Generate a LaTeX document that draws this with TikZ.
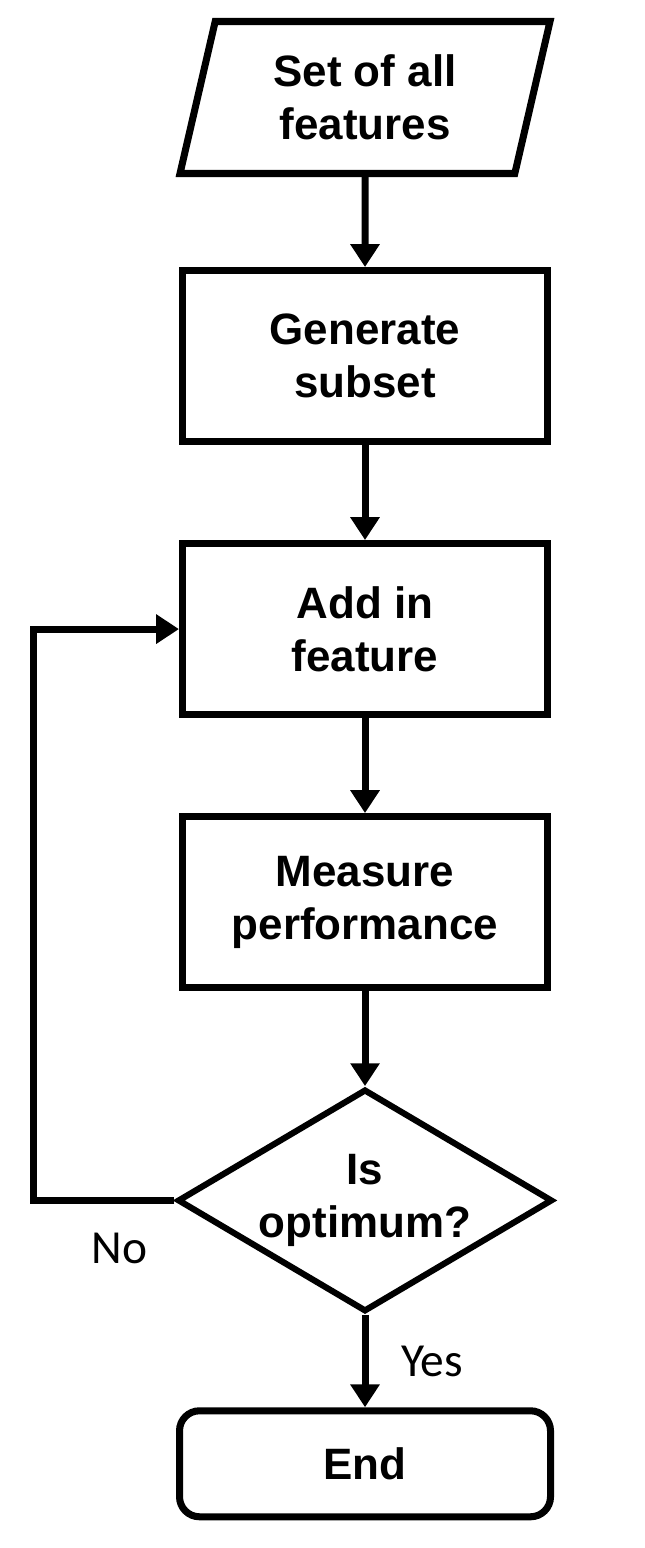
\documentclass[tikz,border=0pt]{standalone}
\usepackage{fontspec}
\setmainfont{Liberation Sans}
\newfontfamily\lblfont{Carlito}
\usetikzlibrary{shapes.geometric}
\usetikzlibrary{positioning}
\usetikzlibrary{arrows.meta,calc}

\begin{document}
\begin{tikzpicture} [
       auto,
       io/.style={trapezium, trapezium left angle=70, trapezium right angle=110,
               trapezium stretches body, draw, line width=4pt,
               minimum width=7.4cm, minimum height=3.04cm, align=center,
               font=\bfseries\fontsize{25}{30}\selectfont},
       process/.style={rectangle, draw, line width=4pt,
               minimum width=7.3cm, minimum height=3.42cm, align=center,
               font=\bfseries\fontsize{25}{30}\selectfont},
       decision/.style={diamond, draw, line width=3.5pt, inner sep=0pt, aspect=1.7,
               minimum width=7.5cm, minimum height=4.45cm, align=center,
               font=\bfseries\fontsize{25}{30}\selectfont},
       terminal/.style={rectangle, rounded corners=0.4cm, draw, line width=4pt,
               minimum width=7.42cm, minimum height=2.12cm,
               font=\bfseries\fontsize{25}{30}\selectfont},
       answer/.style={font=\lblfont\fontsize{27}{30}\selectfont},
       line/.style={draw, line width=4pt, -{Triangle[length=13pt,width=16pt]}},
       node distance=1.9cm,
       ]
       \useasboundingbox (0,0) rectangle (12.9,-30.96);
       \node (input) [io] at (7.3,-1.95) {Set of all\\features};
       \node (subset) [process, below=1.8cm of input] {Generate\\subset};
       \node (add) [process, below=of subset] {Add in\\feature};
       \node (measure) [process, below=of add] {Measure\\performance};
       \node (optimum) [decision, below=of measure] {Is\\optimum?};
       \node (end) [terminal, below=1.85cm of optimum] {End};
       \begin{scope}[every path/.style=line]
       \path (input) -- (subset);
       \path (subset) -- (add);
       \path (add) -- (measure);
       \path (measure) -- (optimum);
       \path (optimum) -- (end);
       \path (optimum.west) -- ++(-2.82,0) |- (add.west);
       \end{scope}
       \node [answer, right=0.6cm] at ($(optimum.south)!0.5!(end.north)$) {Yes};
       \node [answer] at ($(optimum.west)+(-1.1,-0.95)$) {No};
\end{tikzpicture}
\end{document}
